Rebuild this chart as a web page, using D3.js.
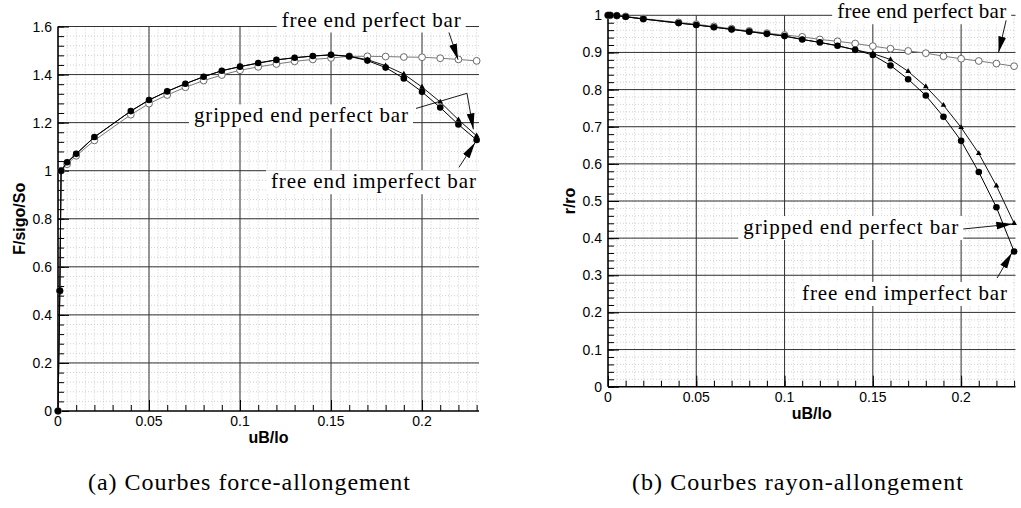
<!DOCTYPE html>
<html>
<head>
<meta charset="utf-8">
<script src="https://cdn.jsdelivr.net/npm/d3@7"></script>
<style>
  body { margin: 0; background: #fff; }
  svg { display: block; }
  .tick-label { font-family: "Liberation Sans", Arial, sans-serif; font-size: 14px; fill: #000; }
  .axis-title { font-family: "Liberation Sans", Arial, sans-serif; font-size: 16px; font-weight: bold; fill: #000; }
  .note { font-size: 21px; fill: #000; }
  .caption { font-size: 24px; fill: #000; }
</style>
</head>
<body>
<div id="chart"></div>
<script>
// --- Data ---

// (a) force / elongation
const xA = [0, 0.001, 0.0017, 0.005, 0.01, 0.02, 0.04, 0.05, 0.06, 0.07, 0.08, 0.09, 0.1,
  0.11, 0.12, 0.13, 0.14, 0.15, 0.16, 0.17, 0.18, 0.19, 0.2, 0.21, 0.22, 0.23];
const freePerfectA = [0, 0.5, 1.0, 1.027, 1.062, 1.126, 1.233, 1.279, 1.315, 1.347, 1.375, 1.398, 1.418,
  1.432, 1.444, 1.455, 1.463, 1.469, 1.476, 1.476, 1.475, 1.473, 1.472, 1.468, 1.463, 1.457];
const grippedA = [0, 0.5, 1.0, 1.035, 1.07, 1.14, 1.248, 1.294, 1.33, 1.362, 1.391, 1.416, 1.433,
  1.448, 1.461, 1.47, 1.477, 1.482, 1.476, 1.462, 1.437, 1.402, 1.348, 1.286, 1.212, 1.145];
const imperfectA = [0, 0.5, 1.0, 1.035, 1.07, 1.14, 1.248, 1.294, 1.33, 1.362, 1.391, 1.416, 1.433,
  1.448, 1.461, 1.47, 1.477, 1.482, 1.476, 1.458, 1.429, 1.384, 1.328, 1.263, 1.192, 1.128];

// (b) radius / elongation
const xB = [0, 0.0013, 0.005, 0.01, 0.02, 0.04, 0.05, 0.06, 0.07, 0.08, 0.09, 0.1,
  0.11, 0.12, 0.13, 0.14, 0.15, 0.16, 0.17, 0.18, 0.19, 0.2, 0.21, 0.22, 0.23];
const freePerfectB = [1, 1, 0.999, 0.997, 0.991, 0.981, 0.976, 0.97, 0.964, 0.958, 0.952, 0.947,
  0.942, 0.935, 0.93, 0.924, 0.917, 0.91, 0.904, 0.898, 0.89, 0.883, 0.877, 0.87, 0.863];
const grippedB = [1, 1, 0.999, 0.996, 0.99, 0.979, 0.974, 0.968, 0.962, 0.956, 0.95, 0.944,
  0.935, 0.927, 0.918, 0.907, 0.897, 0.881, 0.849, 0.808, 0.758, 0.698, 0.628, 0.541, 0.44];
const imperfectB = [1, 1, 0.999, 0.996, 0.99, 0.979, 0.974, 0.968, 0.962, 0.956, 0.95, 0.944,
  0.935, 0.927, 0.918, 0.907, 0.893, 0.865, 0.828, 0.784, 0.727, 0.662, 0.578, 0.483, 0.364];

// Tick values and labels
const xTicks = [0, 0.05, 0.1, 0.15, 0.2];
const xTickLabels = ["0", "0.05", "0.1", "0.15", "0.2"];
const yTicksA = [0, 0.2, 0.4, 0.6, 0.8, 1, 1.2, 1.4, 1.6];
const yTickLabelsA = ["0", "0.2", "0.4", "0.6", "0.8", "1", "1.2", "1.4", "1.6"];
const yTicksB = [0, 0.1, 0.2, 0.3, 0.4, 0.5, 0.6, 0.7, 0.8, 0.9, 1];
const yTickLabelsB = ["0", "0.1", "0.2", "0.3", "0.4", "0.5", "0.6", "0.7", "0.8", "0.9", "1"];

const labelFree = "free end perfect bar";
const labelGripped = "gripped end perfect bar";
const labelImperfect = "free end imperfect bar";
const captions = ["(a)  Courbes force-allongement", "(b)  Courbes rayon-allongement"];

// --- Layout ---
const width = 1021;
const height = 508;
const serif = "'Liberation Serif', 'Times New Roman', Times, serif";

const panels = [
  {
    left: 58, right: 479, top: 26.5, bottom: 411,
    xMax: 0.2313, yMax: 1.6,
    yTicks: yTicksA, yLabels: yTickLabelsA, yMinor: 0.04,
    xTitle: "uB/lo", yTitle: "F/sigo/So",
    x: xA, free: freePerfectA, gripped: grippedA, imperfect: imperfectA,
    // annotations in data units
    notes: [
      { text: labelFree, x: 0.1229, y: 1.6, len: 179 },
      { text: labelGripped, x: 0.0747, y: 1.201, len: 214 },
      { text: labelImperfect, x: 0.117, y: 0.927, len: 205 }
    ],
    arrows: [
      [[0.2148, 1.575], [0.2198, 1.462]],
      [[0.1967, 1.259], [0.2247, 1.322], [0.2282, 1.172]],
      [[0.2203, 1.014], [0.2291, 1.116]]
    ],
    caption: captions[0], captionX: 88, captionLen: 322
  },
  {
    left: 608, right: 1015.5, top: 15.3, bottom: 386.7,
    xMax: 0.2308, yMax: 1,
    yTicks: yTicksB, yLabels: yTickLabelsB, yMinor: 0.02,
    xTitle: "uB/lo", yTitle: "r/ro",
    x: xB, free: freePerfectB, gripped: grippedB, imperfect: imperfectB,
    notes: [
      { text: labelFree, x: 0.1298, y: 0.992, len: 169 },
      { text: labelGripped, x: 0.0766, y: 0.411, len: 215 },
      { text: labelImperfect, x: 0.1099, y: 0.2334, len: 205 }
    ],
    arrows: [
      [[0.2255, 0.9865], [0.2212, 0.9]],
      [[0.2012, 0.4246], [0.229, 0.438]],
      [[0.2204, 0.2927], [0.2287, 0.36]]
    ],
    caption: captions[1], captionX: 632, captionLen: 331
  }
];

const svg = d3.select("#chart")
  .append("svg")
  .attr("width", width)
  .attr("height", height);

svg.append("rect").attr("width", width).attr("height", height).attr("fill", "#fff");

const defs = svg.append("defs");
defs.append("marker")
  .attr("id", "head")
  .attr("markerUnits", "userSpaceOnUse")
  .attr("viewBox", "0 0 16 9")
  .attr("refX", 16).attr("refY", 4.5)
  .attr("markerWidth", 16).attr("markerHeight", 9)
  .attr("orient", "auto")
  .append("path")
  .attr("d", "M0,0.6 L16,4.5 L0,8.4 Z")
  .attr("fill", "#000");

function drawPanel(p) {
  const x = d3.scaleLinear().domain([0, p.xMax]).range([p.left, p.right]);
  const y = d3.scaleLinear().domain([0, p.yMax]).range([p.bottom, p.top]);
  const g = svg.append("g");

  // minor dotted grid
  const gridMinor = g.append("g")
    .attr("stroke", "#c4c4c4").attr("stroke-width", 0.8).attr("stroke-dasharray", "1,2");
  gridMinor.selectAll("line.vx")
    .data(d3.range(0.005, p.xMax, 0.005))
    .join("line")
    .attr("class", "vx")
    .attr("x1", d => x(d)).attr("x2", d => x(d))
    .attr("y1", y(p.yMax)).attr("y2", y(0));
  gridMinor.selectAll("line.hy")
    .data(d3.range(p.yMinor, p.yMax + 1e-9, p.yMinor))
    .join("line")
    .attr("class", "hy")
    .attr("x1", x(0)).attr("x2", x(p.xMax))
    .attr("y1", d => y(d)).attr("y2", d => y(d));

  // major grid
  const gridMajor = g.append("g").attr("stroke", "#333").attr("stroke-width", 1);
  gridMajor.selectAll("line.gx")
    .data(xTicks.slice(1))
    .join("line")
    .attr("class", "gx")
    .attr("x1", d => x(d)).attr("x2", d => x(d))
    .attr("y1", y(p.yMax)).attr("y2", y(0));
  gridMajor.selectAll("line.gy")
    .data(p.yTicks.slice(1))
    .join("line")
    .attr("class", "gy")
    .attr("x1", x(0)).attr("x2", x(p.xMax))
    .attr("y1", d => y(d)).attr("y2", d => y(d));

  const boxLayer = g.append("g");

  // axes with inward ticks
  g.append("g").attr("transform", `translate(0,${y(0)})`)
    .call(d3.axisTop(x).tickValues(d3.range(0, p.xMax, 0.01)).tickSize(6).tickFormat(""))
    .call(s => s.select(".domain").remove())
    .selectAll("line").attr("stroke", "#000");
  g.append("g").attr("transform", `translate(0,${y(0)})`)
    .call(d3.axisTop(x).tickValues(xTicks).tickSize(11).tickFormat(""))
    .call(s => s.select(".domain").remove())
    .selectAll("line").attr("stroke", "#000");
  g.append("g").attr("transform", `translate(${x(0)},0)`)
    .call(d3.axisRight(y).tickValues(d3.range(0, p.yMax + 1e-9, p.yMinor)).tickSize(6).tickFormat(""))
    .call(s => s.select(".domain").remove())
    .selectAll("line").attr("stroke", "#000");
  g.append("g").attr("transform", `translate(${x(0)},0)`)
    .call(d3.axisRight(y).tickValues(p.yTicks).tickSize(11).tickFormat(""))
    .call(s => s.select(".domain").remove())
    .selectAll("line").attr("stroke", "#000");

  g.append("line")
    .attr("x1", x(0)).attr("x2", x(p.xMax)).attr("y1", y(0)).attr("y2", y(0))
    .attr("stroke", "#000").attr("stroke-width", 1.6);
  g.append("line")
    .attr("x1", x(0)).attr("x2", x(0)).attr("y1", y(0)).attr("y2", y(p.yMax))
    .attr("stroke", "#000").attr("stroke-width", 1.6);

  // tick labels
  g.selectAll("text.xl")
    .data(xTicks)
    .join("text")
    .attr("class", "tick-label xl")
    .attr("x", d => x(d)).attr("y", y(0) + 15)
    .attr("text-anchor", "middle")
    .text((d, i) => xTickLabels[i]);
  g.selectAll("text.yl")
    .data(p.yTicks)
    .join("text")
    .attr("class", "tick-label yl")
    .attr("x", x(0) - 6).attr("y", d => y(d) + 5)
    .attr("text-anchor", "end")
    .text((d, i) => p.yLabels[i]);

  // axis titles
  g.append("text")
    .attr("class", "axis-title")
    .attr("x", (p.left + p.right) / 2).attr("y", y(0) + 32)
    .attr("text-anchor", "middle")
    .text(p.xTitle);
  g.append("text")
    .attr("class", "axis-title")
    .attr("transform", `translate(${x(0) - 33},${(p.top + p.bottom) / 2}) rotate(-90)`)
    .attr("text-anchor", "middle")
    .text(p.yTitle);

  // series
  const pts = vals => p.x.map((d, i) => [d, vals[i]]);
  const line = d3.line().x(d => x(d[0])).y(d => y(d[1]));

  g.append("path").datum(pts(p.free))
    .attr("d", line).attr("fill", "none").attr("stroke", "#7a7a7a").attr("stroke-width", 1);
  g.selectAll("circle.free")
    .data(pts(p.free))
    .join("circle")
    .attr("class", "free")
    .attr("cx", d => x(d[0])).attr("cy", d => y(d[1])).attr("r", 3.4)
    .attr("fill", "#fff").attr("stroke", "#6a6a6a").attr("stroke-width", 1);

  g.append("path").datum(pts(p.gripped))
    .attr("d", line).attr("fill", "none").attr("stroke", "#111").attr("stroke-width", 1);
  g.selectAll("path.tri")
    .data(pts(p.gripped))
    .join("path")
    .attr("class", "tri")
    .attr("transform", d => `translate(${x(d[0])},${y(d[1])})`)
    .attr("d", d3.symbol(d3.symbolTriangle, 14))
    .attr("fill", "#000");

  g.append("path").datum(pts(p.imperfect))
    .attr("d", line).attr("fill", "none").attr("stroke", "#000").attr("stroke-width", 1);
  g.selectAll("circle.imp")
    .data(pts(p.imperfect))
    .join("circle")
    .attr("class", "imp")
    .attr("cx", d => x(d[0])).attr("cy", d => y(d[1])).attr("r", 3.3)
    .attr("fill", "#000");

  // labels in white boxes (they hide the grid behind them)
  p.notes.forEach(n => {
    const t = g.append("text")
      .attr("class", "note")
      .attr("font-family", serif)
      .attr("x", x(n.x)).attr("y", y(n.y))
      .attr("textLength", n.len).attr("lengthAdjust", "spacing")
      .text(n.text);
    const bb = t.node().getBBox();
    boxLayer.append("rect")
      .attr("x", bb.x - 5).attr("y", bb.y + 1)
      .attr("width", bb.width + 10).attr("height", bb.height)
      .attr("fill", "#fff");
  });

  // arrows
  const arrowLine = d3.line().x(d => x(d[0])).y(d => y(d[1]));
  g.selectAll("path.arrow")
    .data(p.arrows)
    .join("path")
    .attr("class", "arrow")
    .attr("d", arrowLine)
    .attr("fill", "none").attr("stroke", "#000").attr("stroke-width", 0.9)
    .attr("marker-end", "url(#head)");

  svg.append("text")
    .attr("class", "caption")
    .attr("font-family", serif)
    .attr("x", p.captionX).attr("y", 490)
    .attr("textLength", p.captionLen).attr("lengthAdjust", "spacing")
    .text(p.caption);
}

panels.forEach(drawPanel);
</script>
</body>
</html>
